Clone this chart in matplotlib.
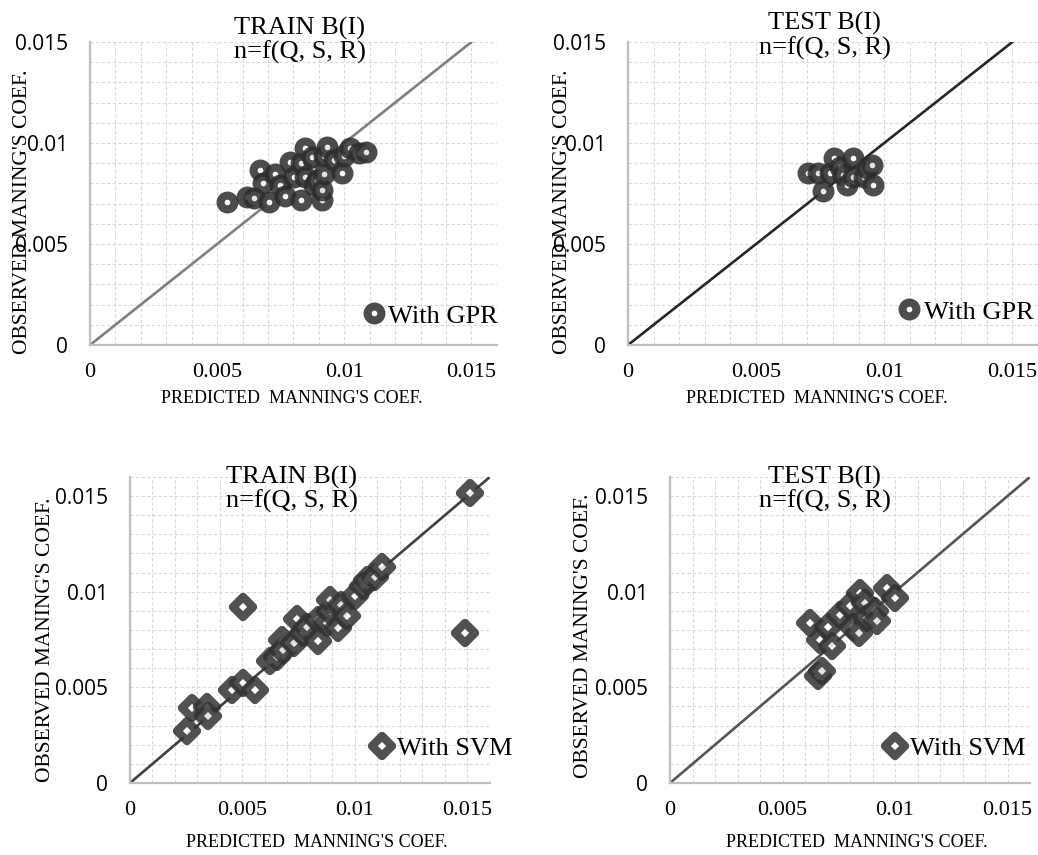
import matplotlib
matplotlib.use('Agg')
import matplotlib.pyplot as plt
from matplotlib.ticker import MultipleLocator, FuncFormatter
from matplotlib.markers import MarkerStyle

# GPR, training set (predicted, observed)
gpr_train_pred = [0.00538, 0.00617, 0.00643, 0.00669, 0.00680, 0.00702, 0.00728, 0.00748,
                  0.00765, 0.00787, 0.00803, 0.00829, 0.00829, 0.00846, 0.00846, 0.00873,
                  0.00879, 0.00892, 0.00912, 0.00912, 0.00919, 0.00921, 0.00932, 0.00958,
                  0.00991, 0.00997, 0.01024, 0.01057, 0.01087]
gpr_train_obs = [0.00709, 0.00731, 0.00726, 0.00866, 0.00803, 0.00709, 0.00845, 0.00792,
                 0.00738, 0.00908, 0.00833, 0.00718, 0.00899, 0.00974, 0.00833, 0.00929,
                 0.00792, 0.00817, 0.00718, 0.00767, 0.00936, 0.00847, 0.00982, 0.00916,
                 0.00850, 0.00936, 0.00974, 0.00949, 0.00957]

# GPR, test set
gpr_test_pred = [0.00704, 0.00740, 0.00760, 0.00789, 0.00802, 0.00828, 0.00839, 0.00854,
                 0.00880, 0.00880, 0.00922, 0.00932, 0.00952, 0.00958]
gpr_test_obs = [0.00850, 0.00850, 0.00764, 0.00850, 0.00924, 0.00883, 0.00842, 0.00792,
                0.00924, 0.00833, 0.00833, 0.00875, 0.00891, 0.00792]

# SVM, training set
svm_train_pred = [0.00252, 0.00274, 0.00341, 0.00348, 0.00452, 0.00501, 0.00501, 0.00556,
                  0.00622, 0.00652, 0.00674, 0.00681, 0.00729, 0.00741, 0.00770, 0.00785,
                  0.00834, 0.00837, 0.00874, 0.00889, 0.00889, 0.00926, 0.00936, 0.00963,
                  0.01000, 0.01037, 0.01052, 0.01089, 0.01119, 0.01489, 0.01511]
svm_train_obs = [0.00274, 0.00391, 0.00399, 0.00351, 0.00487, 0.00525, 0.00919, 0.00487,
                 0.00638, 0.00661, 0.00749, 0.00696, 0.00731, 0.00857, 0.00784, 0.00818,
                 0.00850, 0.00740, 0.00836, 0.00897, 0.00958, 0.00810, 0.00931, 0.00871,
                 0.00978, 0.01028, 0.01063, 0.01079, 0.01129, 0.00783, 0.01515]

# SVM, test set
svm_test_pred = [0.00622, 0.00659, 0.00667, 0.00677, 0.00704, 0.00719, 0.00756, 0.00800,
                 0.00815, 0.00841, 0.00844, 0.00867, 0.00874, 0.00911, 0.00919, 0.00963,
                 0.01000]
svm_test_obs = [0.00836, 0.00560, 0.00749, 0.00583, 0.00818, 0.00717, 0.00880, 0.00923,
                0.00818, 0.00784, 0.00993, 0.00941, 0.00862, 0.00897, 0.00845, 0.01019,
                0.00967]

serif = 'Liberation Serif'
xlabel = "PREDICTED  MANNING'S COEF."
ylabel = "OBSERVED MANING'S COEF."

fig = plt.figure(figsize=(10.38, 8.55), dpi=100)

panels = [
    # rect, x, y, kind, title, ymax, line colour, title pos, legend pos, ylabel x, ylabel y, xlabel pos
    ([0.0867, 0.5965, 0.392, 0.3544], gpr_train_pred, gpr_train_obs, 'GPR', 'TRAIN B(I)', 0.015,
     '#7f7f7f', (0.516, 1.005), (0.672, 0.096), -0.142, 0.44, (0.496, -0.150)),
    ([0.605, 0.5965, 0.395, 0.3544], gpr_test_pred, gpr_test_obs, 'GPR', 'TEST B(I)', 0.015,
     '#262626', (0.48, 1.02), (0.660, 0.109), -0.137, 0.44, (0.46, -0.150)),
    ([0.1252, 0.0842, 0.3468, 0.358], svm_train_pred, svm_train_obs, 'SVM', 'TRAIN B(I)', 0.016,
     '#404040', (0.45, 0.96), (0.672, 0.114), -0.208, 0.467, (0.52, -0.165)),
    ([0.6455, 0.0842, 0.3468, 0.358], svm_test_pred, svm_test_obs, 'SVM', 'TEST B(I)', 0.016,
     '#555555', (0.43, 0.96), (0.597, 0.114), -0.214, 0.48, (0.52, -0.165)),
]

for rect, xs, ys, kind, title, ymax, lc, tpos, lpos, ylx, yly, xlpos in panels:
    ax = fig.add_axes(rect)
    ax.set_xlim(0, 0.016)
    ax.set_ylim(0, ymax)
    ax.xaxis.set_major_locator(MultipleLocator(0.005))
    ax.yaxis.set_major_locator(MultipleLocator(0.005))
    ax.xaxis.set_minor_locator(MultipleLocator(0.001))
    ax.yaxis.set_minor_locator(MultipleLocator(0.001))
    fmt = FuncFormatter(lambda v, p: '0' if abs(v) < 1e-12 else '%g' % round(v, 4))
    ax.xaxis.set_major_formatter(fmt)
    ax.yaxis.set_major_formatter(fmt)
    ax.grid(True, which='both', linestyle=(0, (3, 2)), color='#d9d9d9', linewidth=0.8)
    ax.set_axisbelow(True)
    for s in ['top', 'right']:
        ax.spines[s].set_visible(False)
    for s in ['left', 'bottom']:
        ax.spines[s].set_color('#bfbfbf')
        ax.spines[s].set_linewidth(1.6)
    ax.tick_params(which='both', length=0)
    ax.tick_params(axis='y', pad=16, labelsize=15, labelfontfamily='Open Sans')
    ax.tick_params(axis='x', pad=13, labelsize=16, labelfontfamily=serif)

    ax.axline((0, 0), slope=1, color=lc, linewidth=1.9, zorder=2)

    if kind == 'GPR':
        ax.plot(xs, ys, linestyle='none', marker='o', markersize=10, markeredgewidth=5.8,
                markerfacecolor='white', markeredgecolor='#2d2d2d', alpha=0.85,
                label='With GPR', zorder=3)
    else:
        ax.plot(xs, ys, linestyle='none', marker=MarkerStyle('D', joinstyle='round'),
                markersize=10.5, markeredgewidth=6, markerfacecolor='white',
                markeredgecolor='#333333', alpha=0.85, label='With SVM', zorder=3)

    ax.legend(loc='center left', bbox_to_anchor=lpos, frameon=False, handlelength=0.8,
              handletextpad=0.15, borderpad=0, borderaxespad=0,
              prop={'family': serif, 'size': 19})

    ax.text(tpos[0], tpos[1], title + '\nn=f(Q, S, R)', transform=ax.transAxes,
            ha='center', va='center', fontfamily=serif, fontsize=19, linespacing=1.05)
    ax.set_xlabel(xlabel, fontfamily=serif, fontsize=13)
    ax.xaxis.set_label_coords(*xlpos)
    ax.set_ylabel(ylabel, fontfamily=serif, fontsize=15.5)
    ax.yaxis.set_label_coords(ylx, yly)

fig.savefig('out.png', dpi=100)
